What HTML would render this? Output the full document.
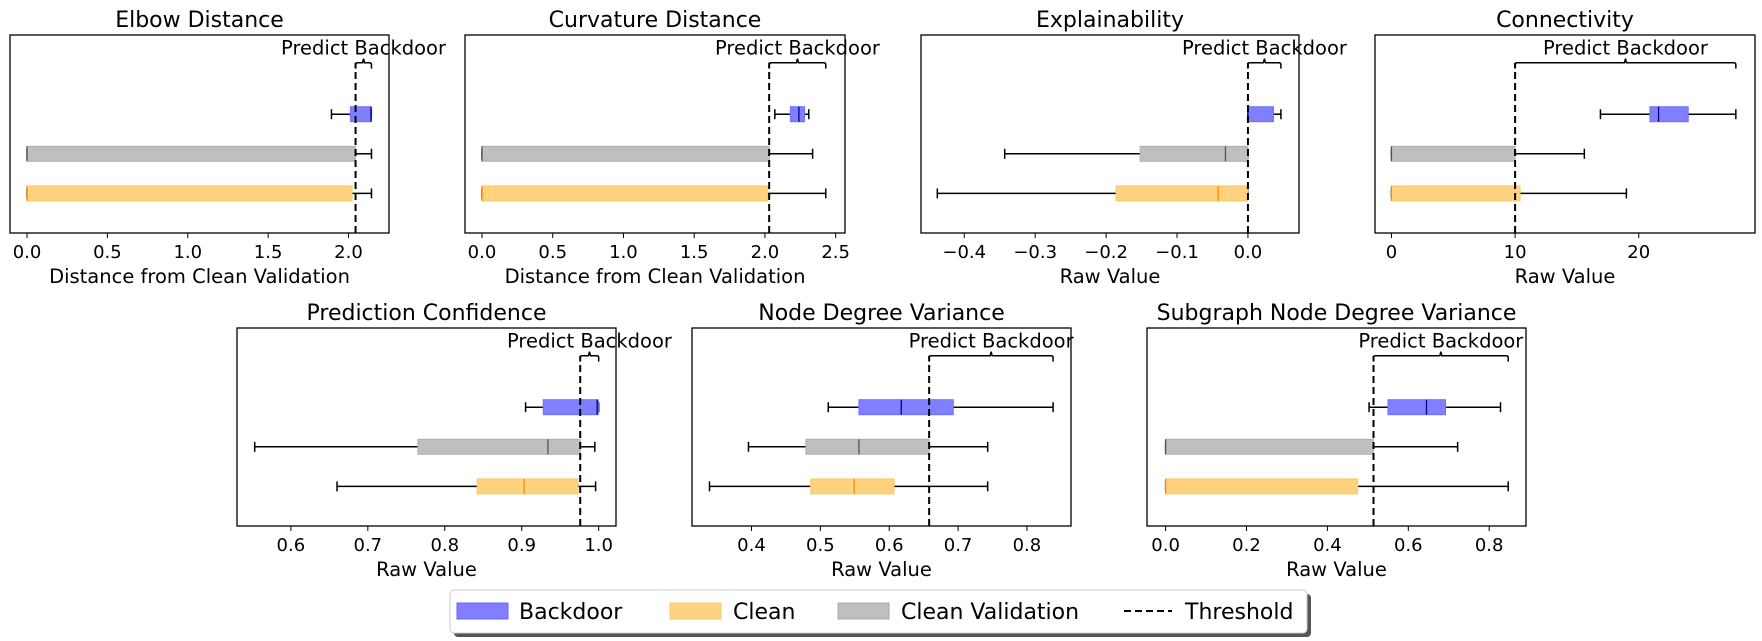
<!DOCTYPE html>
<html><head><meta charset="utf-8"><style>
body{margin:0;background:#fff;}
svg{display:block;font-family:"DejaVu Sans","Liberation Sans",sans-serif;}
</style></head><body>
<svg id="chart" width="1762" height="641" viewBox="0 0 1762 641" xmlns="http://www.w3.org/2000/svg">
<g id="panels"></g>
<g id="legend">
  <rect x="454" y="594" width="857" height="43" rx="4" fill="#555"/>
  <rect x="450" y="590" width="857" height="43" rx="4" fill="#fff" stroke="#ccc"/>
  <g><rect x="457" y="603" width="51" height="16" fill="#8080ff" stroke="#6666ff"/><text x="519" y="619" font-size="22">Backdoor</text></g>
  <g><rect x="670" y="603" width="51" height="16" fill="#ffd280" stroke="#ffc966"/><text x="733" y="619" font-size="22">Clean</text></g>
  <g><rect x="838" y="603" width="51" height="16" fill="#bfbfbf" stroke="#aaa"/><text x="901" y="619" font-size="22">Clean Validation</text></g>
  <g><line x1="1124" y1="611" x2="1172" y2="611" stroke="#000" stroke-width="2" stroke-dasharray="7,4"/><text x="1185" y="619" font-size="22">Threshold</text></g>
</g>
</svg>
<script>
const titles=["Elbow Distance","Curvature Distance","Explainability","Connectivity","Prediction Confidence","Node Degree Variance","Subgraph Node Degree Variance"];
const xLabels=["Distance from Clean Validation","Distance from Clean Validation","Raw Value","Raw Value","Raw Value","Raw Value","Raw Value"];
const xDomains=[[-0.106,2.252],[-0.12,2.566],[-0.461,0.072],[-1.33,29.4],[0.530,1.0225],[0.3136,0.864],[-0.046,0.891]];
const tickValues=[[0,0.5,1,1.5,2],[0,0.5,1,1.5,2,2.5],[-0.4,-0.3,-0.2,-0.1,0],[0,10,20],[0.6,0.7,0.8,0.9,1.0],[0.4,0.5,0.6,0.7,0.8],[0,0.2,0.4,0.6,0.8]];
const tickLabels=[["0.0","0.5","1.0","1.5","2.0"],["0.0","0.5","1.0","1.5","2.0","2.5"],["\u22120.4","\u22120.3","\u22120.2","\u22120.1","0.0"],["0","10","20"],["0.6","0.7","0.8","0.9","1.0"],["0.4","0.5","0.6","0.7","0.8"],["0.0","0.2","0.4","0.6","0.8"]];
const thresholds=[2.044,2.03,0.0,10,0.976,0.658,0.514];
// [whiskerLo, q1, median, q3, whiskerHi]
const backdoorStats=[[1.894,2.012,2.14,2.142,2.142],[2.07,2.18,2.24,2.28,2.31],[0,0,0,0.036,0.0465],[16.9,20.9,21.6,24.0,27.85],[0.905,0.928,0.998,0.9995,1.0],[0.5115,0.556,0.6175,0.693,0.838],[0.503,0.5498,0.645,0.692,0.828]];
const validationStats=[[0,0,0,2.044,2.143],[0,0,0,2.03,2.337],[-0.343,-0.152,-0.0317,0,0],[0,0,0,10,15.6],[0.553,0.765,0.934,0.976,0.995],[0.3956,0.479,0.556,0.658,0.743],[0,0,0,0.514,0.722]];
const cleanStats=[[0,0,0,2.022,2.143],[0,0,0,2.02,2.43],[-0.438,-0.186,-0.042,0,0],[0,0,0,10.4,19.0],[0.660,0.842,0.903,0.973,0.996],[0.339,0.486,0.549,0.607,0.743],[0,0,0,0.475,0.847]];
const braceEnds=[2.143,2.43,0.0465,27.85,1.0,0.838,0.847];

const boxes=[[10,35,379,198],[465,35,380,198],[921,35,378,198],[1375,35,380,198],[237,328,379,198],[692,328,379,198],[1147,328,379,198]];
const NS="http://www.w3.org/2000/svg";
const root=document.getElementById('panels');
function mk(tag,attrs,parent){const e=document.createElementNS(NS,tag);for(const k in attrs)e.setAttribute(k,attrs[k]);parent.appendChild(e);return e;}
const series=[
 {name:'backdoor',stats:backdoorStats,fill:'#8080ff',edge:'#7070ff',med:'#00008b',pos:3},
 {name:'clean-validation',stats:validationStats,fill:'#bfbfbf',edge:'#b0b0b0',med:'#555',pos:2},
 {name:'clean',stats:cleanStats,fill:'#ffd280',edge:'#ffc860',med:'#ff8c00',pos:1}];
titles.forEach((t,i)=>{
  const [bx,by,bw,bh]=boxes[i];
  const [d0,d1]=xDomains[i];
  const X=v=>bx+(v-d0)/(d1-d0)*bw;
  const Y=p=>by+bh-(p/5)*bh;
  const g=mk('g',{},root);
  
  
  const tt=mk('text',{x:bx+bw/2,y:by-8,'text-anchor':'middle','font-size':22},g);tt.textContent=t;
  
  
  series.forEach(s=>{
    const st=s.stats[i];const yc=Y(s.pos);const h=15;
    const sg=mk('g',{},g);
    
    
    mk('line',{x1:X(st[0]),x2:X(st[1]),y1:yc,y2:yc,stroke:'#000','stroke-width':1.5},sg);
    mk('line',{x1:X(st[3]),x2:X(st[4]),y1:yc,y2:yc,stroke:'#000','stroke-width':1.5},sg);
    mk('line',{x1:X(st[0]),x2:X(st[0]),y1:yc-5,y2:yc+5,stroke:'#000','stroke-width':1.5},sg);
    mk('line',{x1:X(st[4]),x2:X(st[4]),y1:yc-5,y2:yc+5,stroke:'#000','stroke-width':1.5},sg);
    mk('rect',{x:X(st[1]),y:yc-h/2,width:Math.max(1,X(st[3])-X(st[1])),height:h,fill:s.fill,stroke:s.edge,'stroke-width':1},sg);
    mk('line',{x1:X(st[2]),x2:X(st[2]),y1:yc-h/2,y2:yc+h/2,stroke:s.med,'stroke-width':1.3},sg);
  });
  const th=mk('line',{x1:X(thresholds[i]),x2:X(thresholds[i]),y1:by+bh,y2:Y(4.3),stroke:'#000','stroke-width':2,'stroke-dasharray':'7,4'},g);
  
  
  const a=X(thresholds[i]),b=X(braceEnds[i]),m=(a+b)/2,yb=Y(4.15),yt=Y(4.3);
  const br=mk('path',{d:`M${a},${yb} L${a},${yt+2} Q${a},${yt} ${a+2},${yt} L${m-1},${yt} L${m},${yt-4} L${m+1},${yt} L${b-2},${yt} Q${b},${yt} ${b},${yt+2} L${b},${yb}`,fill:'none',stroke:'#000','stroke-width':1.5},g);
  
  
  const bt=mk('text',{x:m,y:Y(4.3)-8,'text-anchor':'middle','font-size':19.5},g);bt.textContent='Predict Backdoor';
  
  
  const fr=mk('rect',{x:bx,y:by,width:bw,height:bh,fill:'none',stroke:'#000','stroke-width':1.3},g);
  
  
  tickValues[i].forEach((v,k)=>{
    mk('line',{x1:X(v),x2:X(v),y1:by+bh,y2:by+bh+5,stroke:'#000','stroke-width':1},g);
    const tl=mk('text',{x:X(v),y:by+bh+25,'text-anchor':'middle','font-size':18},g);tl.textContent=tickLabels[i][k];
    
    
  });
  const xl=mk('text',{x:bx+bw/2,y:by+bh+50,'text-anchor':'middle','font-size':19.5},g);xl.textContent=xLabels[i];
  
  
});
</script>
</body></html>
